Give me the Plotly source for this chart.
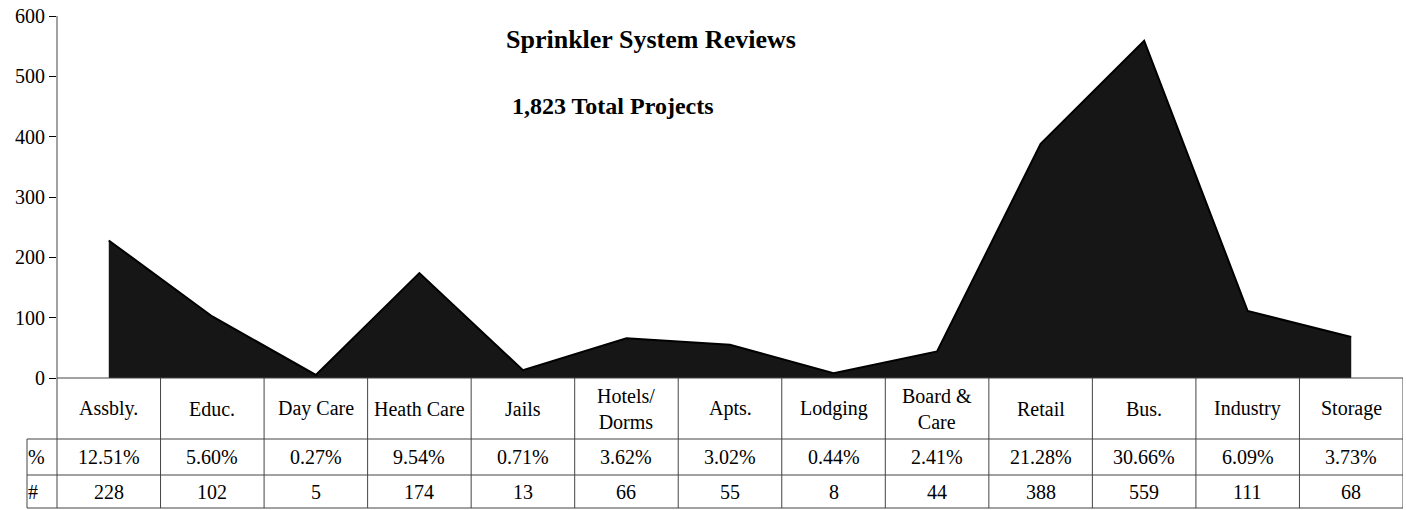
import plotly.graph_objects as go

categories = ["Assbly.", "Educ.", "Day Care", "Heath Care", "Jails", "Hotels/<br>Dorms",
              "Apts.", "Lodging", "Board &<br>Care", "Retail", "Bus.", "Industry", "Storage"]
counts = [228, 102, 5, 174, 13, 66, 55, 8, 44, 388, 559, 111, 68]
percents = ["12.51%", "5.60%", "0.27%", "9.54%", "0.71%", "3.62%", "3.02%", "0.44%",
            "2.41%", "21.28%", "30.66%", "6.09%", "3.73%"]
y_ticks = [0, 100, 200, 300, 400, 500, 600]
title_text = "Sprinkler System Reviews"
subtitle_text = "1,823 Total Projects"

FONT = "Liberation Serif, Times New Roman, serif"
W, H = 1406, 510
ML, MR, MT, MB = 57, 3, 16, 132
PH = H - MT - MB
PW = W - ML - MR

def py(pix):  # pixel y -> paper y
    return (H - MB - pix) / PH

def px(pix):
    return (pix - ML) / PW

n = len(categories)
xs = list(range(n))

fig = go.Figure()
fig.add_trace(go.Scatter(x=xs, y=counts, mode="lines", fill="tozeroy",
                         fillcolor="#161616", line=dict(color="#000000", width=2),
                         hoverinfo="skip", showlegend=False))

line_col = "#444444"
shapes = []
shapes.append(dict(type="line", xref="paper", yref="paper", x0=0, x1=0, y0=1, y1=py(508),
                   line=dict(color=line_col, width=1)))
shapes.append(dict(type="line", xref="paper", yref="paper", x0=0, x1=1, y0=0, y1=0,
                   line=dict(color=line_col, width=1)))
for yp in [439, 475, 508]:
    shapes.append(dict(type="line", xref="paper", yref="paper", x0=px(27), x1=1,
                       y0=py(yp), y1=py(yp), line=dict(color=line_col, width=1)))
for i in range(1, n + 1):
    shapes.append(dict(type="line", xref="x", yref="paper", x0=i - 0.5, x1=i - 0.5,
                       y0=0, y1=py(508), line=dict(color=line_col, width=1)))
shapes.append(dict(type="line", xref="paper", yref="paper", x0=px(27), x1=px(27),
                   y0=py(439), y1=py(508), line=dict(color=line_col, width=1)))

TFONT = dict(family=FONT, size=20, color="black")
annotations = []
for i in range(n):
    annotations.append(dict(x=i, y=py(408.5), xref="x", yref="paper", text=categories[i],
                            showarrow=False, font=TFONT, xanchor="center", yanchor="middle"))
    annotations.append(dict(x=i, y=py(457), xref="x", yref="paper", text=percents[i],
                            showarrow=False, font=TFONT, xanchor="center", yanchor="middle"))
    annotations.append(dict(x=i, y=py(491.5), xref="x", yref="paper", text=str(counts[i]),
                            showarrow=False, font=TFONT, xanchor="center", yanchor="middle"))
annotations.append(dict(x=px(26), y=py(457), xref="paper", yref="paper", text="%",
                        showarrow=False, font=TFONT, xanchor="left", yanchor="middle"))
annotations.append(dict(x=px(26), y=py(491.5), xref="paper", yref="paper", text="#",
                        showarrow=False, font=TFONT, xanchor="left", yanchor="middle"))
annotations.append(dict(x=px(651), y=py(39), xref="paper", yref="paper",
                        text="<b>" + title_text + "</b>", showarrow=False,
                        font=dict(family=FONT, size=26, color="black"),
                        xanchor="center", yanchor="middle"))
annotations.append(dict(x=px(613), y=py(106), xref="paper", yref="paper",
                        text="<b>" + subtitle_text + "</b>", showarrow=False,
                        font=dict(family=FONT, size=24, color="black"),
                        xanchor="center", yanchor="middle"))

fig.update_layout(
    width=W, height=H,
    margin=dict(l=ML, r=MR, t=MT, b=MB),
    paper_bgcolor="white", plot_bgcolor="white",
    shapes=shapes, annotations=annotations,
    xaxis=dict(range=[-0.5, n - 0.5], showticklabels=False, showgrid=False,
               zeroline=False, showline=False, ticks=""),
    yaxis=dict(range=[0, 600], tickvals=y_ticks, showgrid=False, zeroline=False,
               showline=False, ticks="outside", ticklen=7, tickcolor="black",
               tickfont=dict(family=FONT, size=20, color="black")),
)
fig.write_html("out.html", config={"displayModeBar": False},
               post_script="document.body.style.margin='0';document.body.style.overflow='hidden';")
